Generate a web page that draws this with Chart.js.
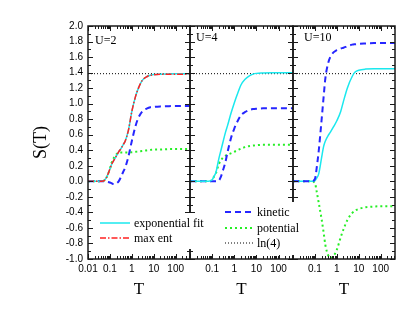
<!DOCTYPE html>
<html><head><meta charset="utf-8">
<script src="https://cdn.jsdelivr.net/npm/chart.js@4.4.1/dist/chart.umd.min.js"></script>
<style>
html,body{margin:0;padding:0;background:#fff;}
#wrap{position:relative;width:409px;height:313px;overflow:hidden;background:#fff;}
canvas{position:absolute;left:0;top:0;}
</style></head><body>
<div id="wrap">
<canvas id="c1" width="409" height="313"></canvas>
<canvas id="c2" width="409" height="313"></canvas>
<canvas id="c3" width="409" height="313"></canvas>
</div>
<script>
// ---- data ----
const T = [0.01,0.02,0.03,0.05,0.07,0.1,0.12,0.15,0.2,0.25,0.3,0.4,0.5,0.7,1,1.5,2,3,5,7,10,20,50,100,200,450];
const panelLabels = ['U=2','U=4','U=10'];
const xTickLabels1 = ['0.01','0.1','1','10','100'];
const xTickLabels23 = ['0.1','1','10','100'];
const yMin = -1, yMax = 2, yStep = 0.2;
const LN4 = 1.386;

const u2Exp    = [0,0,0,0.005,0.05,0.16,0.22,0.27,0.33,0.38,0.41,0.47,0.52,0.66,0.90,1.10,1.20,1.30,1.35,1.365,1.375,1.38,1.383,1.385,1.385,1.385];
const u2MaxEnt = [0,0,0,0.005,0.05,0.16,0.22,0.27,0.33,0.38,0.41,0.47,0.52,0.66,0.90,1.10,1.20,1.30,1.35,1.365,1.372,1.378,1.38,1.38,1.38,1.38];
const u2Kin    = [0,0,0,0,-0.005,-0.015,-0.025,-0.035,-0.025,0.0,0.04,0.12,0.18,0.32,0.52,0.72,0.82,0.90,0.94,0.955,0.96,0.965,0.968,0.97,0.97,0.97];
const u2Pot    = [0,0,0,0.005,0.05,0.16,0.24,0.30,0.35,0.37,0.37,0.37,0.37,0.37,0.375,0.38,0.385,0.39,0.40,0.405,0.41,0.41,0.415,0.415,0.415,0.415];

const u4Exp = [0,0,0,0,0,0.02,0.06,0.12,0.29,0.40,0.49,0.63,0.72,0.87,1.01,1.15,1.24,1.31,1.36,1.38,1.39,1.395,1.398,1.398,1.398,1.398];
const u4Kin = [0,0,0,0,0,0,0,0,0.01,0.06,0.13,0.25,0.38,0.55,0.68,0.79,0.85,0.89,0.92,0.93,0.935,0.94,0.94,0.94,0.94,0.94];
const u4Pot = [0,0,0,0,0,0.02,0.06,0.11,0.22,0.27,0.30,0.33,0.345,0.36,0.38,0.405,0.42,0.44,0.455,0.46,0.465,0.47,0.47,0.47,0.47,0.47];

const u10Exp = [0,0,0,0,0,0.01,0.04,0.10,0.30,0.45,0.52,0.59,0.63,0.70,0.78,0.90,1.03,1.20,1.35,1.41,1.43,1.445,1.45,1.45,1.45,1.45];
const u10Kin = [0,0,0,0,0,0.03,0.17,0.40,0.78,1.09,1.33,1.52,1.60,1.66,1.69,1.71,1.72,1.74,1.76,1.765,1.77,1.775,1.78,1.78,1.78,1.78];
const u10Pot = [0,0,0,0,0,-0.02,-0.13,-0.28,-0.48,-0.66,-0.82,-0.95,-0.985,-0.96,-0.88,-0.72,-0.62,-0.50,-0.41,-0.375,-0.355,-0.335,-0.325,-0.32,-0.32,-0.32];

// ---- styles ----
const ST = {
  exp:    {label:'exponential fit', borderColor:'#1ae8ee', borderWidth:1.5, borderDash:[]},
  maxent: {label:'max ent',         borderColor:'#ff2222', borderWidth:1.5, borderDash:[6,2,1.5,2]},
  kin:    {label:'kinetic',         borderColor:'#2626ff', borderWidth:2,   borderDash:[6,4]},
  pot:    {label:'potential',       borderColor:'#26ee26', borderWidth:2,   borderDash:[2,3]},
  ln4:    {label:'ln(4)',           borderColor:'#000000', borderWidth:1,   borderDash:[1,2]}
};
const SANS = '"Liberation Sans", Arial, sans-serif';
const SERIF = '"Liberation Serif", "Times New Roman", serif';

function ds(key, arr) {
  const s = ST[key];
  return {label:s.label, data:T.map((t,i)=>({x:t,y:arr[i]})), borderColor:s.borderColor,
    borderWidth:s.borderWidth, borderDash:s.borderDash, pointRadius:0, fill:false,
    cubicInterpolationMode:'monotone'};
}
function lnLine() {
  const s = ST.ln4;
  return {label:s.label, data:[{x:T[0],y:LN4},{x:T[T.length-1],y:LN4}], borderColor:s.borderColor,
    borderWidth:s.borderWidth, borderDash:s.borderDash, pointRadius:0, fill:false};
}

function isDecade(v){ const l=Math.log10(v); return Math.abs(l-Math.round(l))<1e-6; }
function fmt(v){ return v>=1 ? String(Math.round(v)) : String(+v.toPrecision(1)); }
function isLogTick(v){ const p=Math.pow(10,Math.floor(Math.log10(v)+1e-9)); const m=v/p; return Math.abs(m-Math.round(m))<1e-6; }

const framePlugin = {
  id:'frame',
  afterDraw(chart, args, opts) {
    const {ctx, chartArea:{left,right,top,bottom}} = chart;
    const x = chart.scales.x, y = chart.scales.y;
    ctx.save();
    ctx.strokeStyle = '#1a1a1a';
    ctx.lineWidth = 1;
    ctx.beginPath();
    x.ticks.forEach(t => {
      if (!isLogTick(t.value)) return;
      const px = Math.round(x.getPixelForValue(t.value)) + 0.5;
      const len = isDecade(t.value) ? 5 : 3;
      ctx.moveTo(px, bottom); ctx.lineTo(px, bottom - len);
      ctx.moveTo(px, top); ctx.lineTo(px, top + len);
    });
    y.ticks.forEach(t => {
      [[t.value,5],[t.value+yStep/2,3]].forEach(([v,len]) => {
        if (v > yMax + 1e-9) return;
        const py = Math.round(y.getPixelForValue(v)) + 0.5;
        ctx.moveTo(left, py); ctx.lineTo(left + len, py);
        ctx.moveTo(right, py); ctx.lineTo(right - len, py);
      });
    });
    ctx.stroke();
    ctx.lineWidth = 1.5;
    ctx.strokeRect(left, top, right-left, bottom-top);
    ctx.fillStyle = '#000';
    ctx.font = '12px ' + SERIF;
    ctx.textBaseline = 'middle';
    ctx.textAlign = 'left';
    ctx.fillText(opts.label, left + opts.dx, opts.ly);
    ctx.restore();
  }
};

const legendPlugin = {
  id:'legendBoxes',
  afterDraw(chart, args, opts) {
    const ctx = chart.ctx;
    ctx.save();
    opts.groups.forEach(g => {
      ctx.fillStyle = '#fff';
      ctx.fillRect(g.box[0], g.box[1], g.box[2], g.box[3]);
      g.items.forEach(it => {
        const s = ST[it.key];
        ctx.strokeStyle = s.borderColor;
        ctx.lineWidth = s.borderWidth;
        ctx.setLineDash(s.borderDash);
        ctx.beginPath();
        ctx.moveTo(g.x0, it.y); ctx.lineTo(g.x1, it.y);
        ctx.stroke();
        ctx.setLineDash([]);
        ctx.fillStyle = '#000';
        ctx.font = '12px ' + SERIF;
        ctx.textBaseline = 'middle';
        ctx.textAlign = 'left';
        ctx.fillText(s.label, g.x1 + 4, it.y + 0.5);
      });
    });
    ctx.restore();
  }
};

const lefts = [88,190,293], rights = [190,293,395];
function makeChart(id, idx, datasets, extraPlugins, legendOpts) {
  const tickLabels = idx === 0 ? xTickLabels1 : xTickLabels23;
  const yScale = {type:'linear', min:yMin, max:yMax, display: idx===0,
    grid:{display:false, drawTicks:false}, border:{display:false},
    ticks:{stepSize:yStep, padding:5, color:'#000', font:{family:SANS, size:10},
      callback:(v)=> (Math.abs(v)<1e-9?0:v).toFixed(1)},
    title:{display:true, text:'S(T)', color:'#000', font:{family:SERIF, size:18}, padding:{top:30,bottom:0}}};
  if (idx === 0) yScale.afterFit = (s)=>{ s.width = 88; };
  return new Chart(document.getElementById(id), {
    type:'line',
    data:{datasets},
    options:{
      responsive:false, animation:false, devicePixelRatio:1,
      layout:{padding:{left: idx===0 ? 0 : lefts[idx], right: 409 - rights[idx], top:26, bottom:0}},
      plugins:{legend:{display:false}, tooltip:{enabled:false},
        frame:{label:panelLabels[idx], dx:[7,6,11][idx], ly:[41,38,38][idx]},
        legendBoxes: legendOpts || {groups:[]}},
      scales:{
        x:{type:'logarithmic', min:T[0], max:T[T.length-1],
          afterFit:(s)=>{ s.height = 54; },
          grid:{display:false, drawTicks:false}, border:{display:false},
          ticks:{autoSkip:false, maxRotation:0, minRotation:0, padding:4, color:'#000', font:{family:SANS, size:10},
            callback:(v)=>{ if(!isDecade(v)) return ''; const s=fmt(v); return tickLabels.includes(s)?s:''; }},
          title:{display:true, text:'T', color:'#000', font:{family:SERIF, size:17}, padding:{top:0,bottom:13}}},
        y: yScale
      }
    },
    plugins:[framePlugin].concat(extraPlugins||[])
  });
}

makeChart('c1', 0, [ds('maxent',u2MaxEnt), ds('exp',u2Exp), ds('kin',u2Kin), ds('pot',u2Pot), lnLine()]);
makeChart('c2', 1, [ds('exp',u4Exp), ds('kin',u4Kin), ds('pot',u4Pot), lnLine()]);
makeChart('c3', 2, [ds('kin',u10Kin), ds('exp',u10Exp), ds('pot',u10Pot), lnLine()], [legendPlugin], {
  groups:[
    {box:[97,213,108,36], x0:100, x1:130, items:[{key:'exp',y:223},{key:'maxent',y:238}]},
    {box:[222,202,82,53], x0:225, x1:253, items:[{key:'kin',y:212},{key:'pot',y:228},{key:'ln4',y:243}]}
  ]});
</script>
</body></html>
